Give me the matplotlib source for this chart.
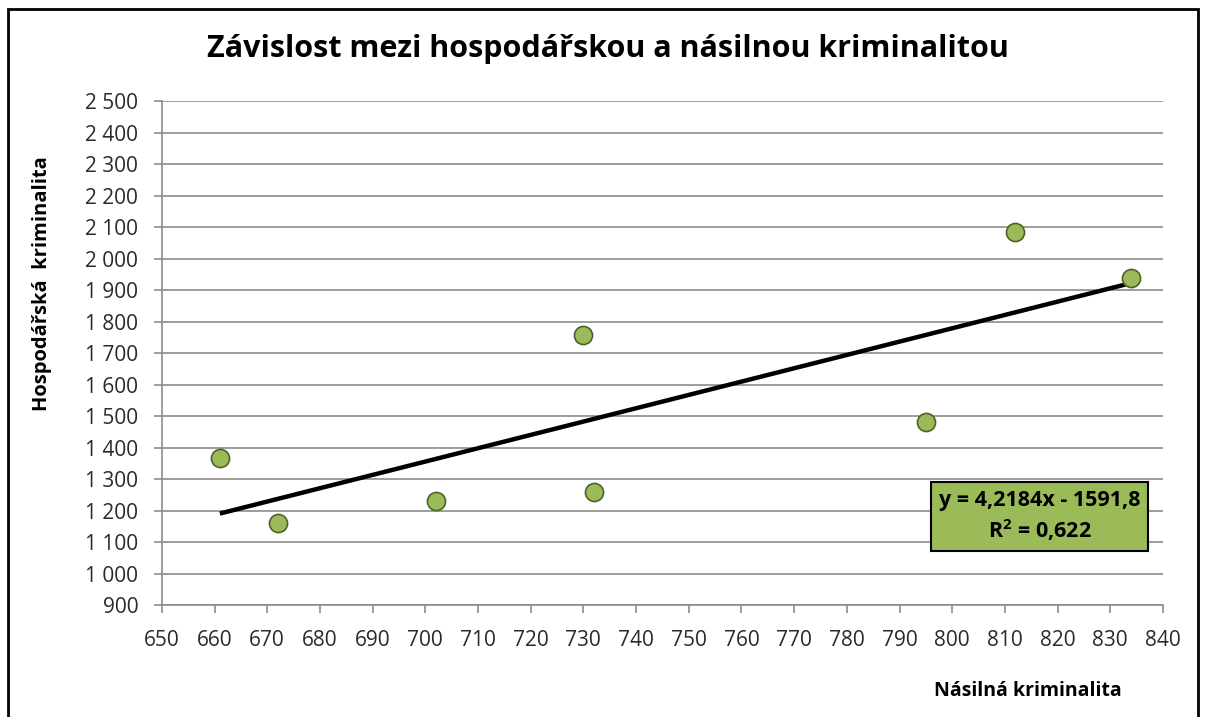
import matplotlib
matplotlib.use("Agg")
import matplotlib.pyplot as plt
import numpy as np
from matplotlib.ticker import FuncFormatter, MultipleLocator
from matplotlib.patches import Rectangle

# ===================================== data =====================================

nasilna = [661, 672, 702, 730, 732, 795, 812, 834]
hospodarska = [1368, 1160, 1230, 1757, 1258, 1481, 2085, 1937]

title = "Závislost mezi hospodářskou a násilnou kriminalitou"
xlabel = "Násilná kriminalita"
ylabel = "Hospodářská  kriminalita"
eq_text = "y = 4,2184x - 1591,8\nR$^2$ = 0,622"

# ================================================================================

plt.rcParams["font.family"] = ["Open Sans", "DejaVu Sans"]
plt.rcParams["mathtext.default"] = "regular"

grid_col = "#8c8c8c"

fig = plt.figure(figsize=(12.08, 7.17), dpi=100)
ax = fig.add_axes([0.134, 0.156, 0.8287, 0.703])

x = np.array(nasilna)
y = np.array(hospodarska)

# linear trendline
k, q = np.polyfit(x, y, 1)
xl = np.array([x.min(), x.max()])
ax.plot(xl, k * xl + q, color="black", lw=3.2, zorder=3, solid_capstyle="butt")

ax.scatter(x, y, s=170, color="#9bbb59", edgecolor="#4f6228", linewidth=1.2, zorder=4)

ax.set_xlim(650, 840)
ax.set_ylim(900, 2500)
ax.xaxis.set_major_locator(MultipleLocator(10))
ax.yaxis.set_major_locator(MultipleLocator(100))
ax.yaxis.set_major_formatter(FuncFormatter(lambda v, p: f"{int(v):,}".replace(",", " ")))

ax.grid(axis="y", color=grid_col, lw=1.2)
ax.set_axisbelow(True)
for s in ["top", "right"]:
    ax.spines[s].set_visible(False)
for s in ["left", "bottom"]:
    ax.spines[s].set_color(grid_col)
    ax.spines[s].set_linewidth(1.2)

ax.tick_params(axis="both", direction="out", length=6, width=1.2, color=grid_col,
               labelsize=15, labelcolor="#2a2a2a")
ax.tick_params(axis="y", pad=11)
ax.tick_params(axis="x", pad=12)

fig.text(0.503, 0.932, title, ha="center", va="center", fontsize=22, fontweight="bold")
fig.text(0.035, 0.604, ylabel, ha="center", va="center", rotation=90,
         fontsize=14.5, fontweight="bold")
fig.text(0.851, 0.036, xlabel, ha="center", va="center", fontsize=14, fontweight="bold")

ax.text(0.8605, 0.2796, eq_text, transform=fig.transFigure, ha="center", va="center",
        fontsize=15.5, fontweight="bold", linespacing=1.3,
        bbox=dict(boxstyle="square,pad=0.38", fc="#9bbb59", ec="black", lw=1.5))

# outer frame
fig.patches.append(Rectangle((0.0065, -0.05), 0.985, 1.037, transform=fig.transFigure,
                             fill=False, ec="black", lw=2))

fig.savefig("out.png", dpi=100)
